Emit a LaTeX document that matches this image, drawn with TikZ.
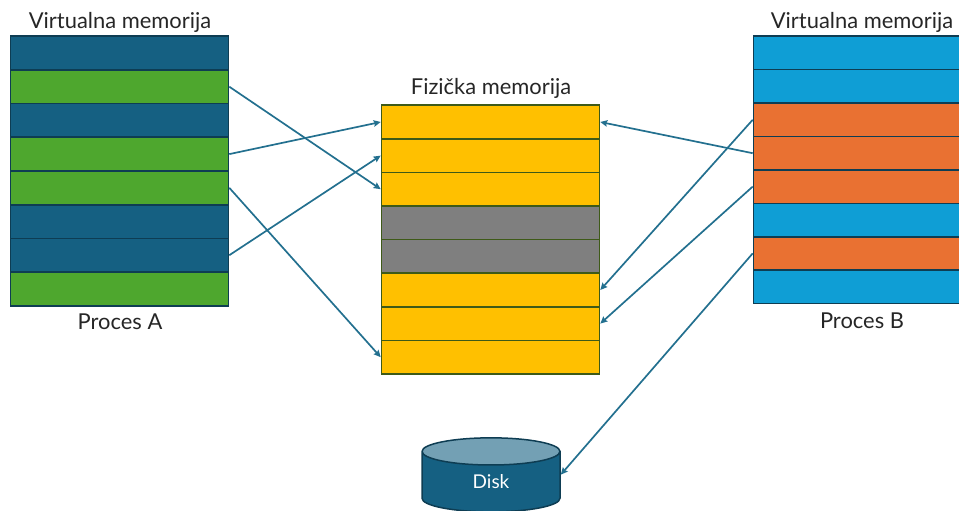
\documentclass[tikz,border=0pt]{standalone}
\usepackage{fontspec}
\setmainfont{Lato}
\usetikzlibrary{arrows.meta,shapes.geometric}
\definecolor{darkblue}{HTML}{156082}
\definecolor{lightblue}{HTML}{0F9ED5}
\definecolor{procgreen}{HTML}{4EA72E}
\definecolor{procorange}{HTML}{E97132}
\definecolor{physyellow}{HTML}{FFC000}
\definecolor{freegray}{HTML}{7F7F7F}
\definecolor{edgeblue}{HTML}{0E3D53}
\definecolor{edgeolive}{HTML}{3E5A18}
\definecolor{arrowblue}{HTML}{23708F}
\begin{document}
\begin{tikzpicture}
[x=1pt,y=-1pt,
  rowdecorate/.style={shape=rectangle,draw=edgeblue,line width=1.6pt,inner sep=0pt,
    minimum width=218pt,minimum height=33.6pt},%
  titledecorate/.style={font=\fontsize{21.9}{25}\selectfont,text=black!85,inner sep=0pt},%
  linedecorate/.style={-{Stealth[length=7pt,width=6.5pt,inset=1pt]},draw=arrowblue,line width=1.7pt}]
\useasboundingbox (0,0) rectangle (959,511);
%% virtual memory of process A
\foreach \nodename/\y/\colr in {1/53/darkblue, 2/86.7/procgreen, 3/120.4/darkblue,
  4/154.1/procgreen, 5/187.8/procgreen, 6/221.5/darkblue, 7/255.2/darkblue, 8/288.9/procgreen}
{
  \node (a\nodename) at (119.5,\y) [rowdecorate,fill=\colr] {};
}
%% physical memory
\foreach \nodename/\y/\colr in {1/122/physyellow, 2/155.6/physyellow, 3/189.2/physyellow,
  4/222.8/freegray, 5/256.4/freegray, 6/290/physyellow, 7/323.6/physyellow, 8/357.2/physyellow}
{
  \node (m\nodename) at (490.5,\y) [rowdecorate,fill=\colr,draw=edgeolive] {};
}
%% virtual memory of process B
\foreach \nodename/\y/\colr in {1/53/lightblue, 2/86.4/lightblue, 3/119.8/procorange,
  4/153.2/procorange, 5/186.6/procorange, 6/220/lightblue, 7/253.4/procorange, 8/286.8/lightblue}
{
  \node (b\nodename) at (862.5,\y) [rowdecorate,fill=\colr,minimum height=33.4pt] {};
}
%% disk
\node (disk) at (491,482) [shape=cylinder,shape border rotate=90,aspect=0.74,draw=edgeblue,
  line width=1.5pt,cylinder uses custom fill,cylinder body fill=darkblue,cylinder end fill=darkblue!60,
  minimum width=138pt,minimum height=74pt,inner sep=0pt,text=white,
  font=\fontsize{19}{21}\selectfont] {Disk};
%% titles
\node (titlea) at (120,22) [titledecorate] {Virtualna memorija};
\node (titlem) at (491,88) [titledecorate] {Fizička memorija};
\node (titleb) at (862,22) [titledecorate] {Virtualna memorija};
\node (proca) at (120,322) [titledecorate] {Proces A};
\node (procb) at (862,321) [titledecorate] {Proces B};
%% arrows
\path
\foreach \startnode/\endnode in {a2.east/m3.west, a4.east/m1.west, a7.east/m2.west, a5.east/m8.west,
  b4.west/m1.east, b3.west/m6.east, b5.west/m7.east, b7.west/disk.6} {
  (\startnode) edge[linedecorate] (\endnode)
};
\end{tikzpicture}
\end{document}
